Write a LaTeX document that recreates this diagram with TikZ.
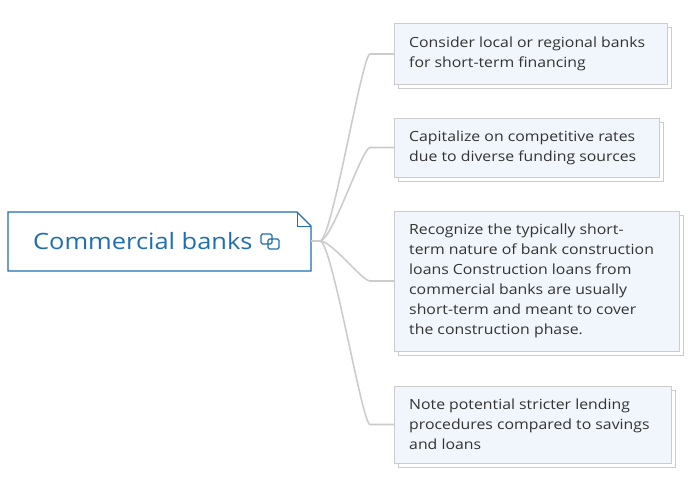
\documentclass[tikz,border=0pt]{standalone}
\usepackage{fontspec}
\setmainfont[FakeStretch=1.13]{Open Sans}
\usetikzlibrary{positioning}
\definecolor{bankblue}{HTML}{1F6FB0}
\definecolor{leaffill}{HTML}{F1F6FC}
\definecolor{leafline}{HTML}{CCCCCC}
\tikzset{
  leaf/.style={draw=leafline,fill=leaffill,line width=1pt},
  leaftext/.style={anchor=west,align=left,inner sep=0pt,font=\fontsize{14}{20}\selectfont,text=black!80},
  shade/.style={draw=leafline,fill=white,line width=1pt},
  link/.style={draw=leafline,line width=1.6pt}
}
\begin{document}
\begin{tikzpicture}[x=1pt,y=-1pt]
\useasboundingbox (0,0) rectangle (690,487);
% root
\draw[bankblue,fill=white,line width=1.2pt] (8,212) -- (297,212) -- (311,226) -- (311,271) -- (8,271) -- cycle;
\draw[bankblue,line width=1pt] (297,212) -- (297,226) -- (311,226);
\node[text=bankblue,font=\fontsize{22.5}{26}\selectfont,anchor=west,inner sep=0pt] (root) at (33,241.5) {Commercial banks};
\draw[bankblue,line width=1.2pt,rounded corners=1.5pt] (261,234) rectangle (272,244) (268,239) rectangle (279,249);
\coordinate (hub) at (320,241);
\draw[link] (311,241) -- (hub);
% leaves
\foreach \n/\x/\y/\w/\h/\t in {
  a/394/24/273/60/{Consider local or regional banks\\for short-term financing},
  b/394/118/265/59/{Capitalize on competitive rates\\due to diverse funding sources},
  c/394/211/285/140/{Recognize the typically short-\\term nature of bank construction\\loans Construction loans from\\commercial banks are usually\\short-term and meant to cover\\the construction phase.},
  d/394/386/277/77/{Note potential stricter lending\\procedures compared to savings\\and loans}}{
  \draw[shade] (\x+4,\y+4) rectangle ++(\w,\h);
  \draw[leaf] (\x,\y) rectangle ++(\w,\h);
  \node[leaftext] (\n) at (\x+15,\y+\h/2) {\t};
  \draw[link] (hub) .. controls (332,241) and (362,\y+\h/2) .. (370,\y+\h/2) -- (\x,\y+\h/2);
}
\end{tikzpicture}
\end{document}
